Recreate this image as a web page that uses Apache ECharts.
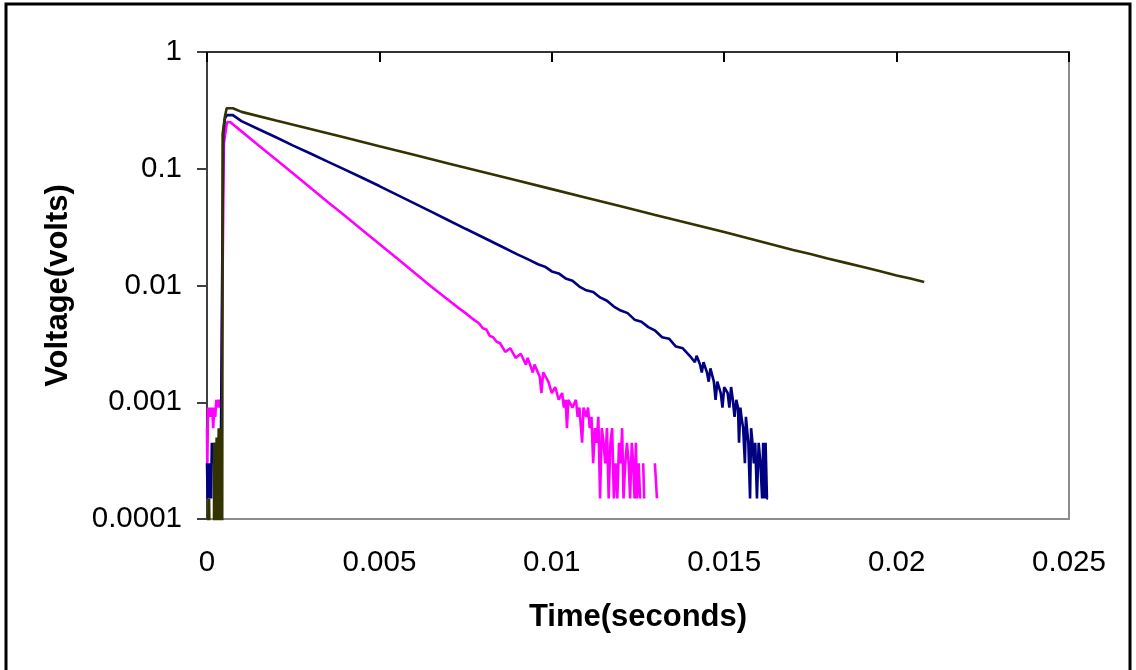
<!DOCTYPE html>
<html>
<head>
<meta charset="utf-8">
<script src="https://cdn.jsdelivr.net/npm/echarts@6/dist/echarts.min.js"></script>
<style>
html,body{margin:0;padding:0;background:#fff;}
#chart{width:1136px;height:670px;}
</style>
</head>
<body>
<div id="chart"></div>
<script>
// Tick labels
const xTickLabels = ['0', '0.005', '0.01', '0.015', '0.02', '0.025'];
const yTickLabels = ['0.0001', '0.001', '0.01', '0.1', '1'];
const seriesNames = ['Magenta trace', 'Blue trace', 'Olive trace'];

// [time (s), voltage (V)] ; null = no sample plotted (zero on log scale)
const magentaData = [
  [0, 0.0006], [0.00001, 0.0003], [0.00003, 0.0009], [0.00006, 0.00075], [0.00009, 0.0009],
  [0.00012, 0.00075], [0.00015, 0.0009], [0.00018, 0.0006], [0.00021, 0.0009], [0.00024, 0.00075],
  [0.00027, 0.00105], [0.0003, 0.0009], [0.00033, 0.00105], [0.00036, 0.0009], [0.00039, 0.00105],
  [0.00042, 0.0009], [0.00044, 0.0053], [0.00049, 0.165], [0.00058, 0.251], [0.00068, 0.25],
  [0.001, 0.209], [0.0015, 0.158], [0.002, 0.12], [0.0025, 0.091], [0.003, 0.0688],
  [0.0035, 0.052], [0.004, 0.0395], [0.0045, 0.0299], [0.005, 0.0227], [0.0055, 0.0172],
  [0.006, 0.013], [0.0065, 0.0098], [0.007, 0.0075], [0.0073, 0.0064], [0.0075, 0.0058],
  [0.0077, 0.0052], [0.0079, 0.0047], [0.008, 0.0043], [0.0081, 0.0042], [0.0082, 0.0037],
  [0.0083, 0.0036], [0.0084, 0.0033], [0.0085, 0.0032], [0.00865, 0.0027], [0.0088, 0.0029],
  [0.00895, 0.0024], [0.0091, 0.0026], [0.00925, 0.0021], [0.0093, 0.0024], [0.00945, 0.0018],
  [0.0095, 0.0021], [0.00965, 0.00165], [0.0097, 0.0012], [0.00975, 0.0018], [0.0099, 0.0015],
  [0.01, 0.0012], [0.0101, 0.00135], [0.0102, 0.00105], [0.0103, 0.0012], [0.01035, 0.0009],
  [0.0104, 0.00105], [0.01044, 0.0006], [0.01048, 0.00105], [0.0106, 0.0009], [0.0107, 0.00105],
  [0.01075, 0.00075], [0.0108, 0.0009], [0.01088, 0.00045], [0.01092, 0.0009], [0.011, 0.00075],
  [0.01105, 0.0009], [0.0111, 0.0006], [0.01115, 0.00075], [0.0112, 0.0003], [0.01125, 0.0006],
  [0.0113, 0.00045], [0.01135, 0.00075], [0.0114, 0.00015], [0.01145, 0.0006], [0.0115, 0.00045],
  [0.01155, 0.0003], [0.0116, 0.0006], [0.01165, 0.00015], [0.0117, 0.00045], [0.01175, 0.0006],
  [0.0118, 0.00015], [0.01185, 0.0003], [0.0119, 0.00015], [0.01195, 0.00045], [0.012, 0.0003],
  [0.01204, 0.0006], [0.01208, 0.00015], [0.01213, 0.0003], [0.01218, 0.00045], [0.01223, 0.0003],
  [0.01227, 0.00015], [0.01232, 0.00045], [0.01236, 0.0003], [0.0124, 0.00015], [0.01244, 0.00045],
  [0.01247, 0.00015], [0.01252, 0.0003], [0.01256, 0.00015], [0.0126, null], [0.01265, 0.0003],
  [0.01268, 0.00015], [0.01272, null], [0.01294, 0.00015], [0.01297, null], [0.01299, 0.0003],
  [0.01305, 0.00015]
];

const blueData = [
  [0, 0.0003], [0.00002, 0.00015], [0.00004, 0.0003], [0.00006, 0.00015], [0.00009, 0.0003],
  [0.00012, 0.00015], [0.00014, 0.00045], [0.00017, 0.0003], [0.0002, 0.00045], [0.00023, 0.0003],
  [0.00026, 0.00045], [0.0003, 0.0003], [0.00035, 0.00045], [0.0004, 0.0003], [0.00044, 0.0003],
  [0.00047, 0.2], [0.00052, 0.27], [0.00058, 0.288], [0.00075, 0.288],
  [0.001, 0.256], [0.0015, 0.218], [0.002, 0.186], [0.0025, 0.158], [0.003, 0.135],
  [0.0035, 0.115], [0.004, 0.0984], [0.0045, 0.0837], [0.005, 0.0711], [0.0055, 0.06],
  [0.006, 0.0508], [0.0065, 0.0429], [0.007, 0.0362], [0.0075, 0.0306], [0.008, 0.0259],
  [0.0085, 0.0219], [0.009, 0.0185], [0.0093, 0.0168], [0.0096, 0.0152], [0.0098, 0.0145],
  [0.01, 0.0132], [0.0102, 0.0127], [0.0104, 0.0115], [0.0106, 0.011], [0.0108, 0.0098],
  [0.011, 0.0091], [0.0112, 0.0088], [0.0114, 0.0079], [0.0116, 0.0074], [0.0118, 0.0066],
  [0.012, 0.0061], [0.0122, 0.0058], [0.0124, 0.0051], [0.0126, 0.0049], [0.0128, 0.0044],
  [0.013, 0.0041], [0.0132, 0.0036], [0.0134, 0.0035], [0.0136, 0.003], [0.0138, 0.0029],
  [0.014, 0.0025], [0.01415, 0.0022], [0.0142, 0.0025], [0.0143, 0.0021], [0.01435, 0.0018],
  [0.0144, 0.0022], [0.0145, 0.0018], [0.01455, 0.0015], [0.0146, 0.00195], [0.0147, 0.0015],
  [0.01475, 0.00105], [0.0148, 0.0015], [0.0149, 0.0012], [0.01495, 0.0009], [0.015, 0.00135],
  [0.0151, 0.0012], [0.01515, 0.0009], [0.0152, 0.00135], [0.01525, 0.00105], [0.0153, 0.00075],
  [0.01535, 0.00105], [0.0154, 0.0009], [0.01543, 0.00045], [0.01547, 0.0009], [0.0155, 0.00075],
  [0.01555, 0.0006], [0.0156, 0.0003], [0.01563, 0.00075], [0.01566, 0.0006], [0.0157, 0.00045],
  [0.01575, 0.00015], [0.01578, 0.0006], [0.01582, 0.00045], [0.01586, 0.0003], [0.0159, 0.00045],
  [0.01595, 0.00015], [0.016, 0.00045], [0.01605, 0.0003], [0.0161, 0.00015], [0.01613, 0.00045],
  [0.01617, 0.00015], [0.0162, 0.00045], [0.01624, 0.00015], [0.01627, 0.00015]
];

const oliveData = [
  [0, 0.00005], [0.00005, 0.00005], [0.00006, 0.00015], [0.00008, 0.00005], [0.0002, 0.00005],
  [0.00021, 0.00045], [0.00023, 0.00005], [0.00026, 0.00005], [0.00028, 0.0005], [0.0003, 0.00005],
  [0.00034, 0.0006], [0.00036, 0.00005], [0.00038, 0.0006], [0.0004, 0.00005], [0.00042, 0.0005],
  [0.00044, 0.00005], [0.000455, 0.2], [0.00052, 0.28], [0.00057, 0.33], [0.00075, 0.33],
  [0.001, 0.307], [0.002, 0.259], [0.003, 0.219], [0.004, 0.185], [0.005, 0.156],
  [0.006, 0.132], [0.007, 0.111], [0.008, 0.0938], [0.009, 0.0792], [0.01, 0.0669],
  [0.011, 0.0565], [0.012, 0.0477], [0.013, 0.0402], [0.014, 0.034], [0.015, 0.0287],
  [0.016, 0.024], [0.017, 0.0201], [0.0175, 0.0186], [0.018, 0.017], [0.0185, 0.0157],
  [0.019, 0.0145], [0.0195, 0.0133], [0.02, 0.0122], [0.0204, 0.0115], [0.0208, 0.0107]
];

const colors = ['#FF00FF', '#000080', '#333300'];

const chart = echarts.init(document.getElementById('chart'), null, {renderer: 'canvas'});
const font = '"Liberation Sans", Arial, sans-serif';

function mkSeries(name, data, color) {
  return {
    name: name, type: 'line', data: data, showSymbol: false, symbol: 'none',
    connectNulls: false, clip: true, animation: false,
    lineStyle: {color: color, width: 2.6}, itemStyle: {color: color}
  };
}

chart.setOption({
  backgroundColor: '#ffffff',
  animation: false,
  grid: {left: 207, top: 52, right: 67, bottom: 151, show: true, borderColor: '#8c8c8c', borderWidth: 2, backgroundColor: '#fff'},
  xAxis: [{
    type: 'value', min: 0, max: 0.025, interval: 0.005, position: 'bottom',
    name: 'Time(seconds)', nameLocation: 'middle', nameGap: 83,
    nameTextStyle: {fontFamily: font, fontSize: 31, fontWeight: 'bold', color: '#000'},
    axisLine: {show: true, lineStyle: {color: '#8c8c8c', width: 2}},
    axisTick: {show: false},
    axisLabel: {fontFamily: font, fontSize: 29.5, color: '#000', margin: 29,
      formatter: function (v) { return xTickLabels[Math.round(v / 0.005)]; }},
    splitLine: {show: false}
  }, {
    type: 'value', min: 0, max: 0.025, interval: 0.005, position: 'top',
    axisLine: {show: true, lineStyle: {color: '#333', width: 2}},
    axisTick: {show: true, inside: true, length: 10, lineStyle: {color: '#000', width: 2}},
    axisLabel: {show: false}, splitLine: {show: false}
  }],
  yAxis: {
    type: 'log', logBase: 10, min: 0.0001, max: 1, splitNumber: 4,
    name: 'Voltage(volts)', nameLocation: 'middle', nameGap: 133,
    nameTextStyle: {fontFamily: font, fontSize: 31, fontWeight: 'bold', color: '#000'},
    axisLine: {show: true, lineStyle: {color: '#404040', width: 2}},
    axisTick: {show: true, inside: false, length: 10, lineStyle: {color: '#404040', width: 2}},
    axisLabel: {fontFamily: font, fontSize: 29.5, color: '#000', margin: 25,
      formatter: function (v) { return yTickLabels[Math.round(Math.log10(v)) + 4]; }},
    splitLine: {show: false}
  },
  graphic: [{
    type: 'rect', silent: true, z: 100,
    shape: {x: 6, y: 4, width: 1124, height: 720},
    style: {fill: null, stroke: '#000', lineWidth: 3}
  }],
  series: [
    mkSeries(seriesNames[0], magentaData, colors[0]),
    mkSeries(seriesNames[1], blueData, colors[1]),
    mkSeries(seriesNames[2], oliveData, colors[2])
  ]
});
</script>
</body>
</html>
